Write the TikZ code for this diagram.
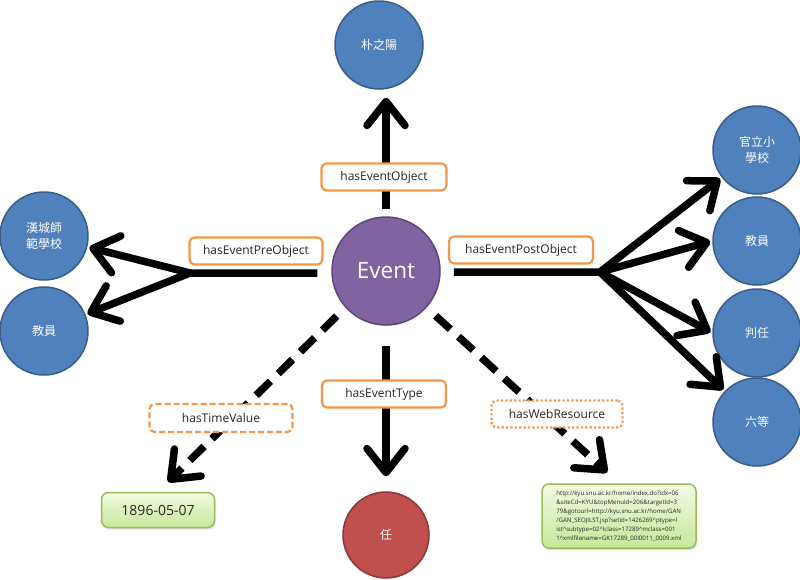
\documentclass[tikz,border=0pt]{standalone}
\usepackage{fontspec}
\setmainfont{Open Sans}
\newfontfamily\cjk{Noto Sans CJK KR}
\usetikzlibrary{arrows.meta,shadows}
\definecolor{bluef}{HTML}{4F81BD}
\definecolor{blued}{HTML}{385D8A}
\definecolor{purpf}{HTML}{8064A2}
\definecolor{purpd}{HTML}{5C4776}
\definecolor{redf}{HTML}{C0504D}
\definecolor{redd}{HTML}{8C3836}
\definecolor{orng}{HTML}{F79646}
\definecolor{grnd}{HTML}{9BBB59}
\definecolor{grntop}{HTML}{F2FBE3}
\definecolor{grnbot}{HTML}{C6E89A}
\definecolor{txt}{HTML}{262626}
\begin{document}
\begin{tikzpicture}[x=1pt,y=-1pt,
  bcirc/.style={circle,fill=bluef,draw=blued,line width=1.5pt,minimum size=88pt,inner sep=0pt,
    text=white,font=\cjk\fontsize{12}{16}\selectfont,align=center},
  lbl/.style={draw=orng,line width=2.2pt,fill=white,rounded corners=5pt,text=txt,
    font=\fontsize{12}{14}\selectfont,inner sep=0pt,minimum height=27pt},
  heavy/.style={line width=7.5pt},
  harrow/.style={heavy,-{Straight Barb[length=24pt,width=38pt,round]}},
  dsh/.style={dash pattern=on 20pt off 11pt},
  gbox/.style={draw=grnd,line width=1.5pt,rounded corners=7pt,top color=grntop,bottom color=grnbot,
    drop shadow={opacity=0.25,shadow xshift=1pt,shadow yshift=-2pt},text=txt,inner sep=0pt}
]
\useasboundingbox[fill=white] (0,0) rectangle (800,579);

% nodes
\node[circle,fill=purpf,draw=purpd,line width=1.5pt,minimum size=108pt,inner sep=0pt,
  text=white,font=\fontsize{22.5}{27}\selectfont] (ev) at (386,271) {Event};
\node[bcirc] (tn) at (379,45) {朴之陽};
\node[bcirc] (l1) at (44,236) {漢城師\\範學校};
\node[bcirc] (l2) at (44,331) {教員};
\node[bcirc] (r1) at (757,150) {官立小\\學校};
\node[bcirc] (r2) at (757,241) {教員};
\node[bcirc] (r3) at (757,333) {判任};
\node[bcirc] (r4) at (757,422) {六等};
\node[circle,fill=redf,draw=redd,line width=1.5pt,minimum size=86pt,inner sep=0pt,
  text=white,font=\cjk\fontsize{12}{16}\selectfont] (tk) at (386,535) {任};
\node[gbox,minimum width=113pt,minimum height=35pt,font=\fontsize{14}{16}\selectfont] (date) at (158,510) {1896-05-07};
\node[gbox,minimum width=154pt,minimum height=64pt,align=left,font=\fontsize{6.1}{8.9}\selectfont] (url) at (619,516)
 {http://kyu.snu.ac.kr/home/index.do?idx=06\\
  \&siteCd=KYU\&topMenuId=206\&targetId=3\\
  79\&gotourl=http://kyu.snu.ac.kr/home/GAN\\
  /GAN\_SEOJILST.jsp?setid=1426269\^{}ptype=l\\
  ist\^{}subtype=02\^{}lclass=17289\^{}mclass=001\\
  1\^{}xmlfilename=GK17289\_00I0011\_0009.xml};

% branch points
\coordinate (lb) at (190,273);
\coordinate (rb) at (600,272);

% connectors
\draw[harrow,shorten <=7pt,shorten >=8pt] (ev.north) -- (ev.north |- tn.south);
\draw[harrow,shorten <=14pt,shorten >=2pt,line join=round] (ev.west |- lb) -- (lb) -- (l1);
\draw[harrow,shorten >=2pt,line cap=round] (lb) -- (l2);
\draw[harrow,shorten <=13pt,shorten >=2pt,line join=round] (ev.east |- rb) -- (rb) -- (r1);
\draw[harrow,shorten >=2pt,line cap=round] (rb) -- (r2.west);
\draw[harrow,shorten >=2pt,line cap=round] (rb) -- (r3.west);
\draw[harrow,shorten >=2pt,line cap=round] (rb) -- (r4);
\draw[harrow,shorten <=20pt,shorten >=15pt] (ev.south) -- (tk.north);
\draw[harrow,dsh,shorten <=12pt,shorten >=14pt] (ev.222) -- (date.north);
\draw[harrow,dsh,shorten <=12pt,shorten >=16pt] (ev.318) -- (url.north);

% labels
\node[lbl,minimum width=125pt] (lo) at (384,177) {hasEventObject};
\node[lbl,minimum width=133pt] (lpre) at (256,251) {hasEventPreObject};
\node[lbl,minimum width=144pt] (lpost) at (521,250) {hasEventPostObject};
\node[lbl,minimum width=124pt] (lt) at (384,394) {hasEventType};
\node[lbl,minimum width=143pt,minimum height=28pt,dash pattern=on 6pt off 3pt] (ltv) at (221,418) {hasTimeValue};
\node[lbl,minimum width=131pt,dash pattern=on 2.2pt off 2.2pt] (lw) at (557,414) {hasWebResource};
\end{tikzpicture}
\end{document}
